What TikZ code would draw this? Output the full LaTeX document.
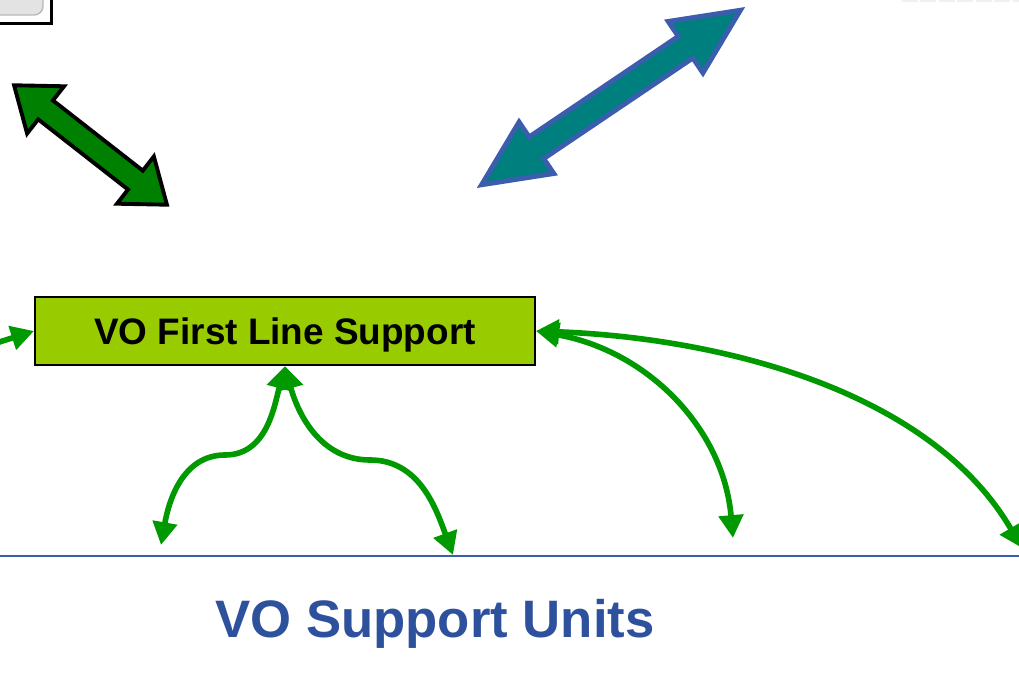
\documentclass[tikz,border=0pt]{standalone}
\usepackage{fontspec}
\setmainfont{Liberation Sans}
\usetikzlibrary{arrows.meta}

\definecolor{boxgreen}{HTML}{99CC00}
\definecolor{linkgreen}{HTML}{009900}
\definecolor{darkgreen}{HTML}{008000}
\definecolor{tealfill}{HTML}{007F7F}
\definecolor{unitblue}{HTML}{2E519E}
\definecolor{edgeblue}{HTML}{3A5DAE}

% double block arrow: style, centre, angle, half length, head length, shaft half, head half
\newcommand{\DblArrow}[7]{%
  \begin{scope}[shift={#2},rotate=#3]
    \draw[#1] (-#4,0) -- (-#4+#5,#7) -- (-#4+#5,#6) -- (#4-#5,#6) -- (#4-#5,#7) -- (#4,0)
      -- (#4-#5,-#7) -- (#4-#5,-#6) -- (-#4+#5,-#6) -- (-#4+#5,-#7) -- cycle;
  \end{scope}}

\begin{document}
\begin{tikzpicture}[x=0.02cm,y=0.02cm,
  supportbox/.style={draw=black,line width=1.2pt,fill=boxgreen,minimum width=10cm,
    minimum height=1.36cm,inner sep=0pt,text depth=0pt,font=\fontsize{21}{25}\selectfont\bfseries},
  link/.style={draw=linkgreen,line width=3.2pt},
  >={Triangle[width=13.6pt,length=13pt]}]
\clip (0,0) rectangle (1019,-675);

            % Top left box (cut)
\draw[line width=1.9pt] (-80,20) rectangle (51.5,-23.5);
\draw[draw=gray!55,fill=gray!22,line width=0.8pt,rounded corners=5pt] (-80,20) rectangle (43,-15);
\draw[gray!12,line width=1.2pt,dash pattern=on 9pt off 1.5pt] (902,-1) -- (1019,-1);

            % Block arrows
\DblArrow{draw=black,fill=darkgreen,line width=2.2pt}{(90.5,-145)}{-38}{97}{40}{12}{30}
\DblArrow{draw=edgeblue,fill=tealfill,line width=2.8pt}{(611,-97.5)}{34}{156}{66}{13}{31}

            % Nodes
\node[supportbox] (flsupport) at (285,-331) {VO First Line Support};
\node[anchor=base,text=unitblue,font=\fontsize{30}{36}\selectfont\bfseries] (units) at (435,-638) {VO Support Units};
\coordinate (fromleft) at (-10,-345);
\coordinate (lbend) at (225,-455);
\coordinate (rbend) at (370,-460);
\coordinate (unitA) at (161,-545);
\coordinate (unitB) at (453,-555);
\coordinate (unitC) at (733,-538);
\coordinate (unitD) at (1022,-548);
\coordinate (lineL) at (0,-556);
\coordinate (lineR) at (1019,-556);

            % Links
\draw[edgeblue,line width=1.1pt] (lineL) -- (lineR);%Units line
\draw[link,->] (fromleft) -- (flsupport.west);%E-left
\draw[link,<->] (unitA) to[out=80,in=180] (lbend) to[out=0,in=-105] (flsupport.south);%E-A
\draw[link,<->] (flsupport.south) to[out=-75,in=180] (rbend) to[out=0,in=110] (unitB);%E-B
\draw[link,<->] (flsupport.east) to[out=-10,in=95] (unitC);%E-C
\draw[link,<->] (flsupport.east) .. controls (720,-338) and (930,-390) .. (unitD);%E-D

\end{tikzpicture}
\end{document}
